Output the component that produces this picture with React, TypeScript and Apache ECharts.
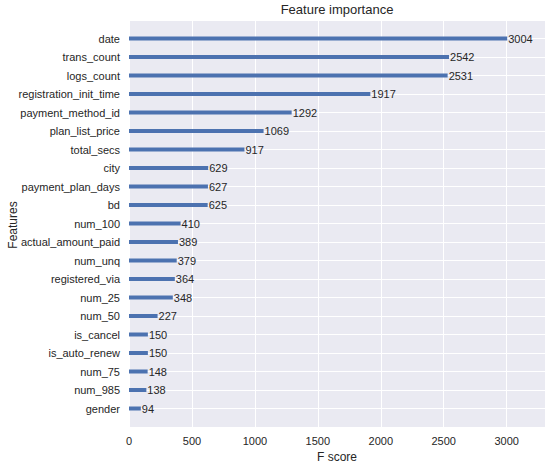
import React, { useEffect, useRef } from "react";
import * as echarts from "echarts";

const features = [
  "gender", "num_985", "num_75", "is_auto_renew", "is_cancel", "num_50", "num_25",
  "registered_via", "num_unq", "actual_amount_paid", "num_100", "bd", "payment_plan_days",
  "city", "total_secs", "plan_list_price", "payment_method_id", "registration_init_time",
  "logs_count", "trans_count", "date",
];
const scores = [
  94, 138, 148, 150, 150, 227, 348, 364, 379, 389, 410, 625, 627, 629, 917, 1069, 1292,
  1917, 2531, 2542, 3004,
];
const xTicks = [0, 500, 1000, 1500, 2000, 2500, 3000];

const FONT = "'Liberation Sans', Arial, sans-serif";
const TXT = "#262626";

export default function App() {
  const ref = useRef<HTMLDivElement>(null);
  useEffect(() => {
    if (!ref.current) return;
    const chart = echarts.init(ref.current, undefined, { renderer: "svg" });
    const cats = ["", ...features, ""];
    const vals: (number | null)[] = [null, ...scores, null];
    const xmax = Math.max(...scores) * 1.1;
    chart.setOption({
      animation: false,
      textStyle: { fontFamily: FONT },
      title: {
        text: "Feature importance",
        left: 337,
        top: 3,
        padding: 0,
        textAlign: "center",
        textStyle: { fontSize: 13, fontWeight: "normal", color: TXT, fontFamily: FONT },
      },
      grid: {
        left: 129,
        right: 5,
        top: 20,
        bottom: 37,
        containLabel: false,
        outerBoundsMode: "none",
        show: true,
        backgroundColor: "#EAEAF2",
        borderWidth: 0,
      },
      graphic: [
        {
          type: "text",
          x: 12.5,
          y: 225,
          rotation: Math.PI / 2,
          style: {
            text: "Features",
            fontSize: 12,
            fill: TXT,
            fontFamily: FONT,
            align: "center",
            verticalAlign: "middle",
          },
        },
      ],
      xAxis: {
        type: "value",
        min: 0,
        max: xmax,
        interval: 500,
        name: "F score",
        nameLocation: "middle",
        nameGap: 19,
        nameTextStyle: { fontSize: 12, color: TXT, fontFamily: FONT },
        axisLine: { show: false },
        axisTick: { show: false },
        axisLabel: {
          fontSize: 11,
          color: TXT,
          margin: 8,
          showMaxLabel: false,
          formatter: (v: number) => (xTicks.includes(v) ? String(v) : ""),
        },
        splitLine: { show: true, lineStyle: { color: "#ffffff", width: 1 } },
      },
      yAxis: {
        type: "category",
        data: cats,
        boundaryGap: false,
        axisLine: { show: false },
        axisTick: { show: false },
        axisLabel: { fontSize: 11, color: TXT, margin: 9, interval: 0 },
        splitLine: { show: true, interval: 0, lineStyle: { color: "#ffffff", width: 1 } },
      },
      series: [
        {
          type: "bar",
          data: vals,
          barWidth: 4,
          itemStyle: { color: "#4C72B0" },
          label: {
            show: true,
            position: "right",
            distance: 1,
            fontSize: 11,
            color: TXT,
            fontFamily: FONT,
            formatter: (p: any) => (p.value == null ? "" : String(p.value)),
          },
        },
      ],
    });
    return () => chart.dispose();
  }, []);
  return (
    <div
      ref={ref}
      style={{ position: "fixed", left: 0, top: 0, width: 550, height: 464, background: "#ffffff" }}
    />
  );
}
